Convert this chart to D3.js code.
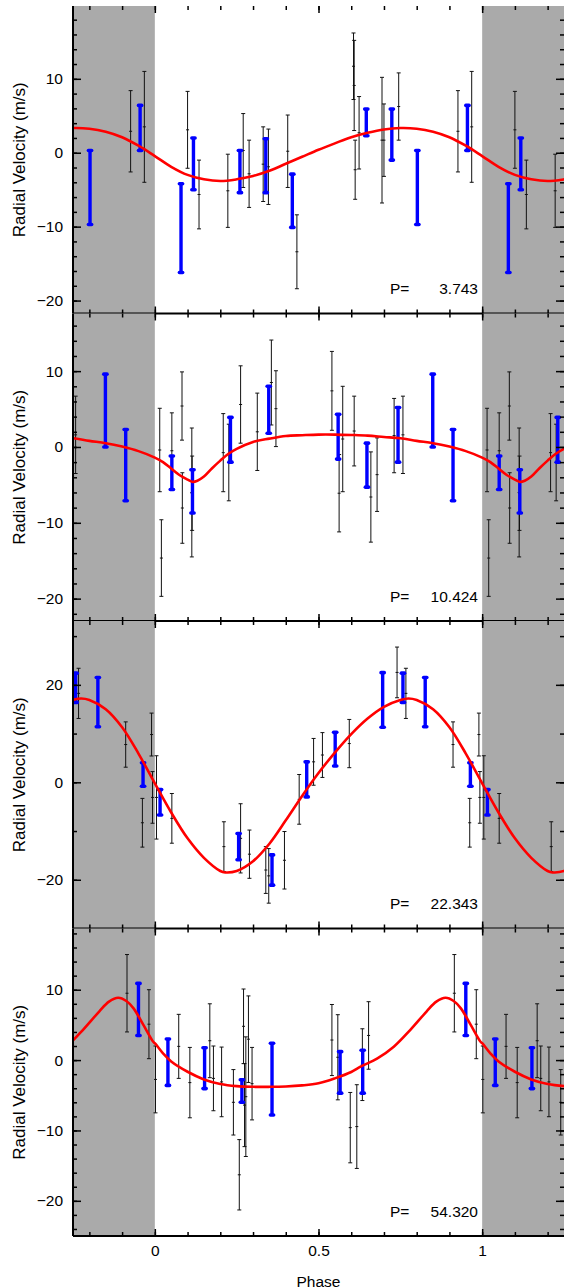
<!DOCTYPE html>
<html><head><meta charset="utf-8">
<script src="https://cdn.jsdelivr.net/npm/d3@7"></script>
<style>
body{margin:0;background:#fff}
svg{display:block}
text{font-family:"Liberation Sans",Arial,Helvetica,sans-serif;fill:#000}
</style>
</head><body>
<svg id="c" width="565" height="1288"></svg>
<script>
// ---------- DATA ----------
const periods = ["3.743", "10.424", "22.343", "54.320"];
const yDomains = [[-21.75, 19.85], [-22.95, 17.6], [-30.0, 33.1], [-25.0, 18.7]];
const yMajorTicks = [[10, 0, -10, -20], [10, 0, -10, -20], [20, 0, -20], [10, 0, -10, -20]];
const yMinorStep = [2, 2, 10, 2];
const xLabelTicks = [0, 0.5, 1];
const xLabelText = ["0", "0.5", "1"];

// [phase, rv, err]  (blue = first instrument, thick bars)
const blue1 = [[0.080,-10.2,6.0],[0.118,-1.5,3.5],[0.260,-2.55,2.85],[0.339,-1.75,3.65],[0.420,-6.5,3.6],
  [0.646,4.1,1.8],[0.724,2.45,3.45],[0.802,-4.7,5.0],[0.955,3.35,3.05]];
const black1 = [[0.926,2.9,5.5],[0.968,3.5,7.5],[0.100,3.1,5.2],[0.135,-5.65,4.65],[0.223,-5.15,4.95],
  [0.270,0.3,5.0],[0.288,-2.85,4.55],[0.331,-1.55,5.05],[0.347,-1.9,5.1],[0.406,0.2,4.9],[0.434,-13.4,5.0],
  [0.607,11.7,4.5],[0.609,9.1,6.1],[0.612,-2.3,4.0],[0.624,2.7,4.9],[0.694,1.7,8.5],[0.700,1.7,4.9],[0.745,6.25,4.55]];
const curve1 = [[0,-0.45],[0.05,-1.9],[0.1,-3.0],[0.15,-3.6],[0.2,-3.83],[0.25,-3.6],[0.3,-3.15],[0.35,-2.45],
  [0.4,-1.5],[0.45,-0.55],[0.5,0.4],[0.55,1.27],[0.6,2.1],[0.65,2.7],[0.7,3.15],[0.75,3.34],[0.8,3.25],
  [0.85,2.85],[0.9,2.1],[0.95,0.95],[1.0,-0.45]];

const blue2 = [[0.849,4.8,4.8],[0.911,-2.4,4.7],[0.052,-3.4,2.2],[0.115,-5.85,2.85],[0.231,0.95,2.95],
  [0.348,4.9,3.1],[0.560,1.35,2.95],[0.648,-2.4,2.9],[0.743,1.6,3.6]];
const black2 = [[0.015,-0.4,5.5],[0.020,-14.65,5.05],[0.052,-0.5,5.0],[0.083,5.4,4.5],[0.084,-8.05,4.65],
  [0.113,-6.0,8.5],[0.114,-6.1,4.9],[0.209,-0.75,5.15],[0.226,-2.05,5.05],[0.262,5.6,5.1],[0.313,2.0,5.1],
  [0.356,8.5,5.6],[0.370,5.05,5.0],[0.541,7.4,5.2],[0.563,-6.1,5.1],[0.574,1.05,6.95],[0.609,2.1,4.6],
  [0.660,-6.6,5.95],[0.679,-3.65,4.85],[0.731,1.5,4.9],[0.758,1.6,5.1]];
const curve2 = [[0,-1.4],[0.025,-2.0],[0.05,-2.85],[0.075,-3.7],[0.1,-4.3],[0.115,-4.6],[0.13,-4.45],
  [0.15,-3.9],[0.175,-2.8],[0.2,-1.8],[0.225,-0.9],[0.25,-0.25],[0.3,0.66],[0.35,1.1],[0.4,1.45],
  [0.45,1.55],[0.5,1.63],[0.55,1.63],[0.6,1.58],[0.65,1.5],[0.7,1.32],[0.75,1.15],[0.8,0.8],[0.85,0.5],
  [0.9,0.05],[0.95,-0.55],[1.0,-1.4]];

const blue3 = [[0.758,19.4,3.0],[0.826,16.45,5.05],[0.964,1.6,2.4],[0.016,-4.1,2.6],[0.256,-13.2,2.7],
  [0.358,-18.0,3.1],[0.464,0.6,3.6],[0.551,6.8,3.45],[0.696,16.9,5.6]];
const black3 = [[0.767,18.25,5.15],[0.911,7.75,4.65],[0.962,-8.3,5.0],[0.990,9.8,4.4],[0.993,-3.1,5.3],
  [0.005,-3.1,8.55],[0.052,-7.4,5.1],[0.211,-13.2,5.1],[0.262,-11.5,7.1],[0.289,-14.75,4.95],
  [0.339,-18.0,4.8],[0.348,-19.2,5.6],[0.396,-16.0,5.9],[0.441,-3.5,5.1],[0.485,4.2,4.8],[0.512,5.6,4.6],
  [0.594,7.95,4.95],[0.740,22.55,5.2]];
const curve3 = [[0,-0.2],[0.05,-6.2],[0.1,-11.5],[0.15,-15.5],[0.2,-18.2],[0.215,-18.5],[0.25,-18.2],
  [0.3,-16.2],[0.35,-12.6],[0.4,-7.8],[0.45,-2.8],[0.5,1.9],[0.55,6.1],[0.6,9.9],[0.65,13.1],[0.7,15.5],
  [0.75,16.9],[0.775,17.2],[0.8,16.9],[0.85,15.0],[0.9,11.3],[0.95,5.9],[1.0,-0.2]];

const blue4 = [[0.950,7.2,3.7],[0.040,-0.3,3.3],[0.152,-1.15,2.9],[0.266,-4.4,1.6],[0.358,-2.7,5.1],
  [0.566,-1.75,2.95],[0.635,-1.65,3.05]];
const black4 = [[0.915,9.5,5.5],[0.982,5.1,4.9],[0.002,-2.75,4.75],[0.073,1.95,4.55],[0.107,-3.2,5.0],
  [0.168,2.75,5.25],[0.179,-2.6,4.6],[0.204,-3.1,4.95],[0.240,-6.0,4.65],[0.258,-16.3,5.0],[0.271,4.8,5.3],
  [0.274,-6.4,5.9],[0.278,-5.2,8.5],[0.286,2.97,6.15],[0.297,-3.35,5.15],[0.541,2.85,5.05],[0.559,0.4,6.05],
  [0.597,-9.6,5.0],[0.617,-9.45,5.95],[0.634,-0.65,5.1],[0.653,3.5,4.8]];
const curve4 = [[0,2.4],[0.025,0.95],[0.05,-0.2],[0.1,-1.66],[0.15,-2.75],[0.2,-3.4],[0.25,-3.7],[0.3,-3.8],
  [0.35,-3.8],[0.4,-3.75],[0.45,-3.6],[0.5,-3.3],[0.55,-2.6],[0.6,-1.7],[0.63,-0.9],[0.68,0.24],[0.73,1.9],
  [0.78,4.27],[0.83,6.9],[0.86,8.3],[0.888,8.86],[0.913,8.4],[0.935,7.35],[0.965,5.0],[0.995,2.6],[1.0,2.4]];

const panels = [
  {blue: blue1, black: black1, curve: curve1},
  {blue: blue2, black: black2, curve: curve2},
  {blue: blue3, black: black3, curve: curve3},
  {blue: blue4, black: black4, curve: curve4}
];

// ---------- LAYOUT ----------
const X0 = 73, X1 = 564, TOP = 6, PH = 307.5;
const svg = d3.select("#c");
const defs = svg.append("defs");
const x = d3.scaleLinear().domain([-0.25, 1.25]).range([X0, X1]);
const xMinor = d3.range(-2, 13).map(k => k / 10);
const xMajor = [0, 0.5, 1];

const replicate = arr => [-1, 0, 1]
  .flatMap(s => arr.map(d => [d[0] + s, d[1], d[2]]))
  .filter(d => d[0] >= -0.25 && d[0] <= 1.25);

const curveRep = arr => {
  const pts = [];
  [-1, 0, 1].forEach(s => arr.forEach(d => {
    if (s !== 1 && d[0] === 1) return;
    pts.push([d[0] + s, d[1]]);
  }));
  return pts.filter(d => d[0] >= -0.4 && d[0] <= 1.4).sort((a, b) => a[0] - b[0]);
};

panels.forEach((p, i) => {
  const t = TOP + i * PH, b = t + PH;
  const y = d3.scaleLinear().domain(yDomains[i]).range([b, t]);
  const g = svg.append("g");

  defs.append("clipPath").attr("id", "clip" + i)
    .append("rect").attr("x", X0).attr("y", t).attr("width", X1 - X0).attr("height", PH);

  // grey shaded phase regions
  g.append("rect").attr("x", x(-0.25)).attr("y", t).attr("width", x(0) - x(-0.25)).attr("height", PH).attr("fill", "#aaaaaa");
  g.append("rect").attr("x", x(1)).attr("y", t).attr("width", x(1.25) - x(1)).attr("height", PH).attr("fill", "#aaaaaa");

  const inner = g.append("g").attr("clip-path", `url(#clip${i})`);

  // thin error bars
  const thin = inner.append("g").attr("stroke", "#111").attr("stroke-width", 1).attr("fill", "none");
  replicate(p.black).forEach(d => {
    const cx = x(d[0]), yl = y(d[1] - d[2]), yh = y(d[1] + d[2]), yc = y(d[1]);
    thin.append("line").attr("x1", cx).attr("x2", cx).attr("y1", yl).attr("y2", yh);
    thin.append("line").attr("x1", cx - 2).attr("x2", cx + 2).attr("y1", yl).attr("y2", yl);
    thin.append("line").attr("x1", cx - 2).attr("x2", cx + 2).attr("y1", yh).attr("y2", yh);
    thin.append("line").attr("x1", cx - 1.5).attr("x2", cx + 1.5).attr("y1", yc).attr("y2", yc);
  });

  // thick blue error bars
  const thick = inner.append("g").attr("stroke", "#0000ff").attr("fill", "none");
  replicate(p.blue).forEach(d => {
    const cx = x(d[0]), yl = y(d[1] - d[2]), yh = y(d[1] + d[2]);
    thick.append("line").attr("x1", cx).attr("x2", cx).attr("y1", yl).attr("y2", yh).attr("stroke-width", 3.4);
    [yl, yh].forEach(yy => thick.append("line").attr("x1", cx - 1.6).attr("x2", cx + 1.6)
      .attr("y1", yy).attr("y2", yy).attr("stroke-width", 3.6).attr("stroke-linecap", "round"));
  });

  // model curve
  const line = d3.line().x(d => x(d[0])).y(d => y(d[1])).curve(d3.curveCatmullRom.alpha(0.5));
  inner.append("path").datum(curveRep(p.curve)).attr("d", line)
    .attr("fill", "none").attr("stroke", "#ff0000").attr("stroke-width", 2.6);

  // axes (ticks pointing inward)
  const strip = sel => sel.select(".domain").remove();
  const tickStyle = sel => sel.selectAll("line").attr("stroke", "#000").attr("stroke-width", 1.5);
  const yMinor = d3.range(Math.ceil(yDomains[i][0] / yMinorStep[i]) * yMinorStep[i], yDomains[i][1], yMinorStep[i]);

  g.append("g").attr("transform", `translate(${X0},0)`)
    .call(d3.axisRight(y).tickValues(yMinor).tickSize(4).tickFormat("")).call(strip).call(tickStyle);
  g.append("g").attr("transform", `translate(${X0},0)`)
    .call(d3.axisRight(y).tickValues(yMajorTicks[i]).tickSize(8).tickFormat("")).call(strip).call(tickStyle);
  g.append("g").attr("transform", `translate(${X1},0)`)
    .call(d3.axisLeft(y).tickValues(yMinor).tickSize(4).tickFormat("")).call(strip).call(tickStyle);
  g.append("g").attr("transform", `translate(${X1},0)`)
    .call(d3.axisLeft(y).tickValues(yMajorTicks[i]).tickSize(8).tickFormat("")).call(strip).call(tickStyle);

  g.append("g").attr("transform", `translate(0,${t})`)
    .call(d3.axisBottom(x).tickValues(xMinor).tickSize(4).tickFormat("")).call(strip).call(tickStyle);
  g.append("g").attr("transform", `translate(0,${t})`)
    .call(d3.axisBottom(x).tickValues(xMajor).tickSize(7).tickFormat("")).call(strip).call(tickStyle);
  g.append("g").attr("transform", `translate(0,${b})`)
    .call(d3.axisTop(x).tickValues(xMinor).tickSize(4).tickFormat("")).call(strip).call(tickStyle);
  g.append("g").attr("transform", `translate(0,${b})`)
    .call(d3.axisTop(x).tickValues(xMajor).tickSize(7).tickFormat("")).call(strip).call(tickStyle);

  // y tick labels
  const lab = g.append("g").attr("transform", `translate(${X0},0)`)
    .call(d3.axisLeft(y).tickValues(yMajorTicks[i]).tickSize(0).tickPadding(10)
      .tickFormat(d => d < 0 ? "\u2212" + Math.abs(d) : String(d)))
    .call(strip);
  lab.selectAll("text").attr("font-size", 15.5).attr("fill", "#000")
    .attr("font-family", '"Liberation Sans",Arial,sans-serif');

  // frame: left and bottom
  g.append("line").attr("x1", X0).attr("x2", X0).attr("y1", t).attr("y2", b)
    .attr("stroke", "#000").attr("stroke-width", 2);
  g.append("line").attr("x1", X0).attr("x2", X1).attr("y1", b).attr("y2", b)
    .attr("stroke", "#000").attr("stroke-width", 2);

  // y title
  g.append("text").attr("transform", `translate(25,${(t + b) / 2}) rotate(-90)`)
    .attr("text-anchor", "middle").attr("font-size", 17).text("Radial Velocity (m/s)");

  // period label
  g.append("text").attr("x", 390).attr("y", b - 19.5).attr("font-size", 15.5).text("P=");
  g.append("text").attr("x", 478).attr("y", b - 19.5).attr("font-size", 15.5)
    .attr("text-anchor", "end").text(periods[i]);

  if (i === panels.length - 1) {
    const xl = g.append("g").attr("transform", `translate(0,${b})`)
      .call(d3.axisBottom(x).tickValues(xLabelTicks).tickSize(0).tickPadding(9)
        .tickFormat((d, k) => xLabelText[k]))
      .call(strip);
    xl.selectAll("text").attr("font-size", 15.5).attr("fill", "#000")
      .attr("font-family", '"Liberation Sans",Arial,sans-serif');
    g.append("text").attr("x", x(0.5)).attr("y", 1286.5).attr("text-anchor", "middle")
      .attr("font-size", 15.5).text("Phase");
  }
});
</script>
</body></html>
